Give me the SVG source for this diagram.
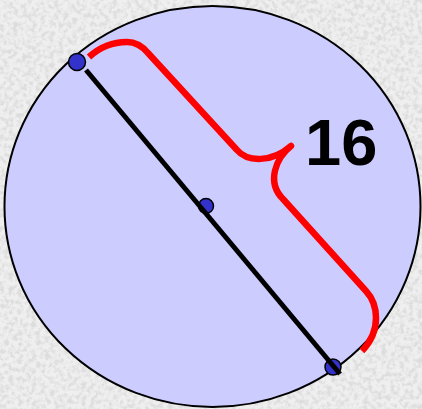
<svg xmlns="http://www.w3.org/2000/svg" width="422" height="409" viewBox="0 0 422 409">
  <defs>
    <filter id="stone" x="0" y="0" width="100%" height="100%">
      <feTurbulence type="fractalNoise" baseFrequency="0.22" numOctaves="3" seed="3" result="n"/>
      <feColorMatrix in="n" type="matrix" values="0 0 0 0 0.72  0 0 0 0 0.72  0 0 0 0 0.72  0 0 0 -3.2 1.9"/>
    </filter>
  </defs>
  <style>
    .dot { fill: #3333cc; stroke: #000; stroke-width: 1.5; }
    .diameter { stroke: #000; stroke-width: 5; }
    .brace { fill: none; stroke: #ff0000; stroke-width: 6.5; stroke-linejoin: round; }
    .label { font-family: "Liberation Sans", Arial, sans-serif; font-weight: bold; font-size: 65px; fill: #000; }
  </style>
  <g id="background">
    <rect x="0" y="0" width="422" height="409" fill="#efefef"/>
    <rect x="0" y="0" width="422" height="409" fill="#efefef" filter="url(#stone)"/>
  </g>
  <g id="circle">
    <ellipse cx="212.5" cy="206.5" rx="208" ry="200.5" fill="#ccccff" stroke="#000" stroke-width="2"/>
  </g>
  <g id="center-point">
    <circle cx="206" cy="206" r="7.5" class="dot"/>
  </g>
  <g id="endpoint-bottom">
    <circle cx="333" cy="367" r="8" class="dot"/>
  </g>
  <g id="connectors">
    <line class="diameter" x1="86" y1="70" x2="340" y2="374"/>
  </g>
  <g id="endpoint-top">
    <circle cx="77" cy="62" r="8.5" class="dot"/>
  </g>
  <g id="brace">
    <path class="brace" d="M 89,57 C 100,47 114,42 127,42 C 137,42 143,47 148,53 L 237,150 C 247,162 272,163 291,146 C 276,158 266,182 283,199 L 366,291 C 378,304 382,330 362,351"/>
  </g>
  <g id="label">
    <text class="label" x="305" y="165">16</text>
  </g>
</svg>
